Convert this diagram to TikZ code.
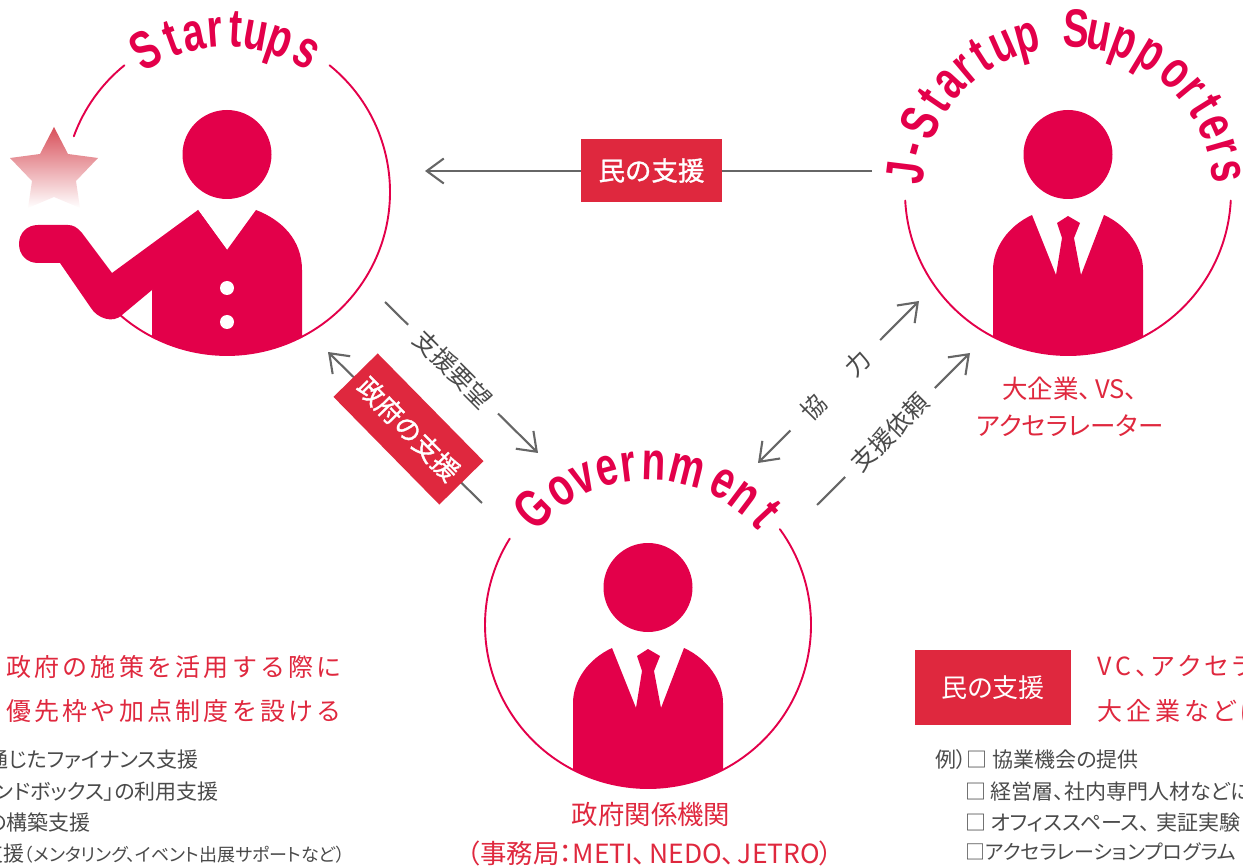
\documentclass[tikz,border=0pt]{standalone}
\usepackage{fontspec}
\usetikzlibrary{arrows.meta,calc}
\setmainfont{Noto Sans CJK JP}
\newfontfamily\jp[RawFeature={+palt}]{Noto Sans CJK JP}
\newfontfamily\jpb[FakeBold=1.2]{Noto Sans CJK JP}
\newfontfamily\jpsp[LetterSpace=13]{Noto Sans CJK JP}
\newfontfamily\jpspp[LetterSpace=16,RawFeature={+palt}]{Noto Sans CJK JP}
\newfontfamily\ttl[FakeStretch=0.72]{Liberation Sans}
\definecolor{crim}{HTML}{E3004A}
\definecolor{lab}{HTML}{DF283E}
\definecolor{gry}{HTML}{666666}
\definecolor{txt}{HTML}{4A4A4A}
\definecolor{starc}{HTML}{D8505A}
\tikzset{
  ringtitle/.style={inner sep=0pt,anchor=base,text=crim,font=\ttl\bfseries\fontsize{54}{54}\selectfont},
  ring/.style={draw=crim,line width=1.9pt,line cap=round},
  solid fill/.style={fill=crim,draw=none},
  conn/.style={draw=gry,line width=2.1pt,-{Straight Barb[length=17pt,width=25pt,line width=2.1pt]}},
  connboth/.style={draw=gry,line width=2.1pt,{Straight Barb[length=17pt,width=25pt,line width=2.1pt]}-{Straight Barb[length=17pt,width=25pt,line width=2.1pt]}},
  redbox/.style={fill=lab,text=white,inner sep=0pt,font=\jpb\fontsize{26.5}{26.5}\selectfont},
  redplain/.style={fill=lab,text=white,inner sep=0pt,font=\jp\fontsize{26}{26}\selectfont},
  rot/.style={fill=white,text=txt,inner xsep=14pt,inner ysep=2pt,font=\jp\fontsize{24.5}{24.5}\selectfont},
  captxt/.style={text=lab,inner sep=0pt,font=\jp\fontsize{25.5}{25.5}\selectfont},
  head/.style={circle,fill=crim,inner sep=0pt,minimum size=89pt},
  spaced/.style={text=lab,inner sep=0pt,font=\jpsp\fontsize{25}{25}\selectfont},
  spacedp/.style={text=lab,inner sep=0pt,font=\jpspp\fontsize{25}{25}\selectfont},
  exl/.style={text=txt,inner sep=0pt,anchor=base east,font=\jp\fontsize{21}{21}\selectfont},
  exr/.style={text=txt,inner sep=0pt,anchor=base west,font=\jp\fontsize{21}{21}\selectfont},
}
\begin{document}
\begin{tikzpicture}[x=1pt,y=-1pt]
\clip (0,0) rectangle (1243,866);
\coordinate (S) at (227,192);
\coordinate (J) at (1068,192);
\coordinate (G) at (648,625);

% rings
\draw[ring] ($(S)+(51:163pt)$) arc[start angle=51,end angle=-131,radius=163pt];
\draw[ring] ($(S)+(129:163pt)$) arc[start angle=129,end angle=160,radius=163pt];
\draw[ring] ($(J)+(-3:163pt)$) arc[start angle=-3,end angle=-177,radius=163pt];
\draw[ring] ($(G)+(36:163pt)$) arc[start angle=36,end angle=-212,radius=163pt];

% Startups figure
\node[head] (headS) at (227,154.5) {};
\begin{scope}
\clip (S) circle (163pt);
\path[solid fill] (198,210) -- (227,250) -- (256,210) .. controls (282,220) and (302,240) .. (302,270) -- (302,360) -- (152,360) -- (152,290) -- cycle;
\end{scope}
\path[solid fill] (198,210) -- (112,273) -- (82,233) .. controls (77,227) and (73,225) .. (68,225) -- (38,225) .. controls (27,225) and (19,233) .. (19,244) .. controls (19,255) and (27,263) .. (38,263) -- (60,263) -- (91,308) .. controls (97,318) and (113,324) .. (122,315) -- (152,290) -- (227,250) -- cycle;
\node[circle,fill=white,inner sep=0pt,minimum size=14pt] (btnA) at (227,288) {};
\node[circle,fill=white,inner sep=0pt,minimum size=14pt] (btnB) at (227,322) {};
\shade[top color=starc,bottom color=white,draw=none] (54,127) -- (68,154) -- (98,158) -- (76,181) -- (80,208) -- (54,197) -- (28,208) -- (32,181) -- (10,158) -- (40,154) -- cycle;

% Supporters figure
\node[head] (headJ) at (1068,154.5) {};
\begin{scope}
\clip (J) circle (163pt);
\path[solid fill] (1032,215) -- (1056,275) -- (1062,238) -- (1057,223) -- (1068,216) -- (1080,223) -- (1074,238) -- (1081,275) -- (1104,215) .. controls (1128,226) and (1143,248) .. (1143,270) -- (1143,360) -- (993,360) -- (993,270) .. controls (993,248) and (1008,226) .. (1032,215) -- cycle;
\end{scope}

% Government figure
\node[head] (headG) at (648,587.5) {};
\begin{scope}
\clip (G) circle (163pt);
\path[solid fill] (612,648) -- (636,708) -- (642,671) -- (637,656) -- (648,649) -- (660,656) -- (654,671) -- (661,708) -- (684,648) .. controls (708,659) and (723,681) .. (723,703) -- (723,793) -- (573,793) -- (573,703) .. controls (573,681) and (588,659) .. (612,648) -- cycle;
\end{scope}

% ring titles
\foreach \a/\l in {120/S,110/t,102/a,94.3/r,87/t,79.6/u,70.7/p,60.4/s}
  \node[ringtitle,rotate=\a-90] at ($(S)+(\a:145pt)$) {\l};
\foreach \a/\l in {173/J,164.5/-,155/S,145.8/t,137.4/a,130/r,122.8/t,114/u,105/p,87/S,79/u,69.5/p,58.8/p,47.7/o,39.7/r,32/t,24/e,16/r,7.4/s}
  \node[ringtitle,rotate=\a-90] at ($(J)+(\a:145pt)$) {\l};
\foreach \a/\l in {134.5/G,123/o,114/v,105/e,97/r,88/n,76/m,62/e,53/n,43/t}
  \node[ringtitle,rotate=\a-90] at ($(G)+(\a:145pt)$) {\l};

% connector ends
\coordinate (minA) at (872,171);
\coordinate (minB) at (425,171);
\coordinate (reqA) at (385,302);
\coordinate (reqB) at (538,453);
\coordinate (govA) at (482,503);
\coordinate (govB) at (328,352);
\coordinate (cooA) at (758,463);
\coordinate (cooB) at (919,301);
\coordinate (irA) at (817,505);
\coordinate (irB) at (970,353);

\draw[conn] (minA) -- (minB);
\node[redbox,minimum width=141pt,minimum height=63pt] (minbox) at (651.5,170.5) {民の支援};

\draw[conn] (reqA) -- node[rot,rotate=-45,pos=0.445] (reqlab) {支援要望} (reqB);

\draw[conn] (govA) -- (govB);
\node[redbox,rotate=-45.5,minimum width=151pt,minimum height=62pt] (govbox) at (408.5,429) {政府の支援};

\draw[connboth] (cooA) -- node[rot,rotate=45,pos=0.48,inner xsep=20pt] (coolab) {協\hspace{38pt}力} (cooB);

\draw[conn] (irA) -- node[rot,rotate=45,pos=0.477] (irlab) {支援依頼} (irB);

% captions
\node[captxt] (capJa) at (1070,389) {大企業、\hspace{4pt}VS、};
\node[captxt] (capJb) at (1070,426) {アクセラレーター};
\node[captxt,font=\jp\fontsize{26.4}{26.4}\selectfont] (capGa) at (651,815) {政府関係機関};
\node[captxt,font=\jp\fontsize{26.4}{26.4}\selectfont] (capGb) at (650,853) {（事務局：METI、\hspace{3pt}NEDO、\hspace{3pt}JETRO）};

% left panel
\node[spaced,anchor=base west] (la) at (6,676) {政府の施策を活用する際に};
\node[spaced,anchor=base west] (lb) at (6,720) {優先枠や加点制度を設ける};
\node[exl] (l1) at (199,767) {通じたファイナンス支援};
\node[exl] (l2) at (219,799) {ンドボックス」の利用支援};
\node[exl] (l3) at (91,830) {の構築支援};
\node[exl] (l4) at (345,861) {支援{\fontsize{18}{18}\selectfont（メンタリング、イベント出展サポートなど）}};

% right panel
\node[redplain,minimum width=156pt,minimum height=75pt] (minbox2) at (993,687.5) {民の支援};
\node[spacedp,anchor=base west] (ra) at (1097,675) {VC、アクセラ};
\node[spacedp,anchor=base west] (rb) at (1097,720) {大企業などに};
\node[exr] (r1) at (935,767) {例）□ 協業機会の提供};
\node[exr] (r2) at (965,799) {□ 経営層、社内専門人材などに};
\node[exr] (r3) at (965,830) {□ オフィススペース、\hspace{6pt}実証実験};
\node[exr,font=\jp\fontsize{20}{20}\selectfont] (r4) at (965,859) {□アクセラレーションプログラム};
\end{tikzpicture}
\end{document}
